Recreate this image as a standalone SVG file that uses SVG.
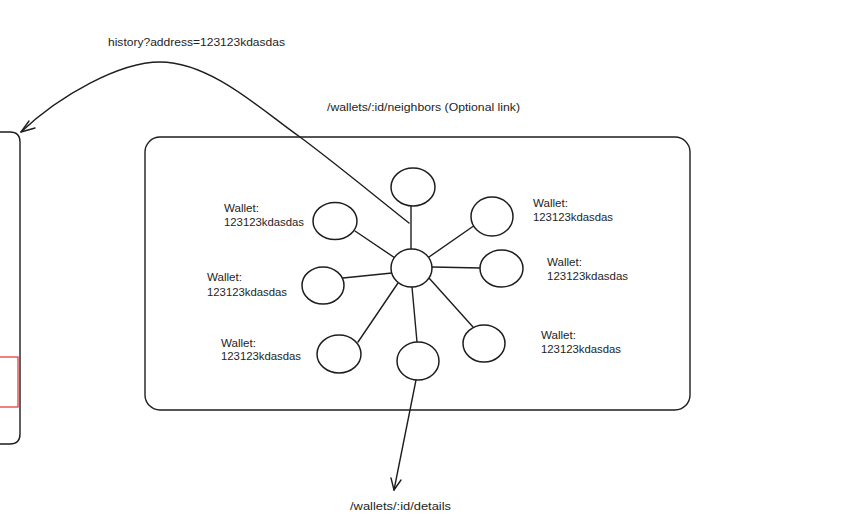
<svg xmlns="http://www.w3.org/2000/svg" width="860" height="516" viewBox="0 0 860 516">
<defs>
<style>
.s{fill:none;stroke:#1e1e1e;stroke-width:1.4;stroke-linecap:round;stroke-linejoin:round}
.n{fill:#ffffff;stroke:#1e1e1e;stroke-width:1.5}
.t{font-family:"Liberation Sans",Arial,sans-serif;font-size:11.5px;fill:#1e1e1e}
</style>
</defs>
<rect width="860" height="516" fill="#ffffff"/>
<g id="left-panel">
<path class="s" d="M-10,132 L10,132 Q20,132 20,142 L20,434 Q20,444 10,444 L-10,444"/>
<rect x="-6" y="357" width="24" height="50" fill="none" stroke="#e03131" stroke-width="1.2"/>
</g>
<g id="graph-panel">
<rect class="s" x="145" y="137" width="545" height="273" rx="15" ry="15"/>
</g>
<g id="connectors">
<line class="s" x1="411" y1="249" x2="411" y2="206"/>
<line class="s" x1="398" y1="260" x2="355" y2="231"/>
<line class="s" x1="429" y1="257" x2="475" y2="225"/>
<line class="s" x1="432" y1="267" x2="481" y2="268"/>
<line class="s" x1="392" y1="273" x2="343" y2="278"/>
<line class="s" x1="398" y1="283" x2="358" y2="342"/>
<line class="s" x1="412" y1="287" x2="417" y2="342"/>
<line class="s" x1="429" y1="278" x2="473" y2="327"/>
<path class="s" d="M409,223 C370,192 335,163 300,137 C265,113 212,62 160,62 C120,62 60,95 21,132"/>
<path class="s" d="M29,121 L21,132 L35,128"/>
<line class="s" x1="416" y1="380" x2="394" y2="490"/>
<path class="s" d="M391,478 L394,490 L401,480"/>
</g>
<g id="node-center"><ellipse class="n" cx="411.5" cy="268" rx="20.5" ry="19"/></g>
<g id="node-top"><ellipse class="n" cx="413" cy="187" rx="22" ry="19"/></g>
<g id="node-upper-left"><ellipse class="n" cx="335" cy="221" rx="22" ry="18.5"/></g>
<g id="node-upper-right"><ellipse class="n" cx="492" cy="216.5" rx="21" ry="19.5"/></g>
<g id="node-right"><ellipse class="n" cx="501.5" cy="268.5" rx="21.5" ry="18.5"/></g>
<g id="node-left"><ellipse class="n" cx="323" cy="285.5" rx="21" ry="18.5"/></g>
<g id="node-lower-left"><ellipse class="n" cx="339" cy="354" rx="22" ry="19"/></g>
<g id="node-bottom"><ellipse class="n" cx="418" cy="361" rx="21" ry="19"/></g>
<g id="node-lower-right"><ellipse class="n" cx="484" cy="343.5" rx="21" ry="18.5"/></g>
<g id="labels">
<text class="t" x="108" y="46" textLength="177" lengthAdjust="spacingAndGlyphs">history?address=123123kdasdas</text>
<text class="t" x="327" y="111" textLength="193" lengthAdjust="spacingAndGlyphs">/wallets/:id/neighbors (Optional link)</text>
<text class="t" x="350" y="510" textLength="101" lengthAdjust="spacingAndGlyphs">/wallets/:id/details</text>
<text class="t" x="224" y="212" textLength="35" lengthAdjust="spacingAndGlyphs">Wallet:</text>
<text class="t" x="224" y="226" textLength="80" lengthAdjust="spacingAndGlyphs">123123kdasdas</text>
<text class="t" x="533" y="207" textLength="35" lengthAdjust="spacingAndGlyphs">Wallet:</text>
<text class="t" x="533" y="221" textLength="80" lengthAdjust="spacingAndGlyphs">123123kdasdas</text>
<text class="t" x="207" y="281" textLength="35" lengthAdjust="spacingAndGlyphs">Wallet:</text>
<text class="t" x="207" y="296" textLength="80" lengthAdjust="spacingAndGlyphs">123123kdasdas</text>
<text class="t" x="547" y="266" textLength="35" lengthAdjust="spacingAndGlyphs">Wallet:</text>
<text class="t" x="547" y="280" textLength="81" lengthAdjust="spacingAndGlyphs">123123kdasdas</text>
<text class="t" x="221" y="347" textLength="35" lengthAdjust="spacingAndGlyphs">Wallet:</text>
<text class="t" x="221" y="360" textLength="80" lengthAdjust="spacingAndGlyphs">123123kdasdas</text>
<text class="t" x="541" y="339" textLength="35" lengthAdjust="spacingAndGlyphs">Wallet:</text>
<text class="t" x="541" y="353" textLength="80" lengthAdjust="spacingAndGlyphs">123123kdasdas</text>
</g>
</svg>
